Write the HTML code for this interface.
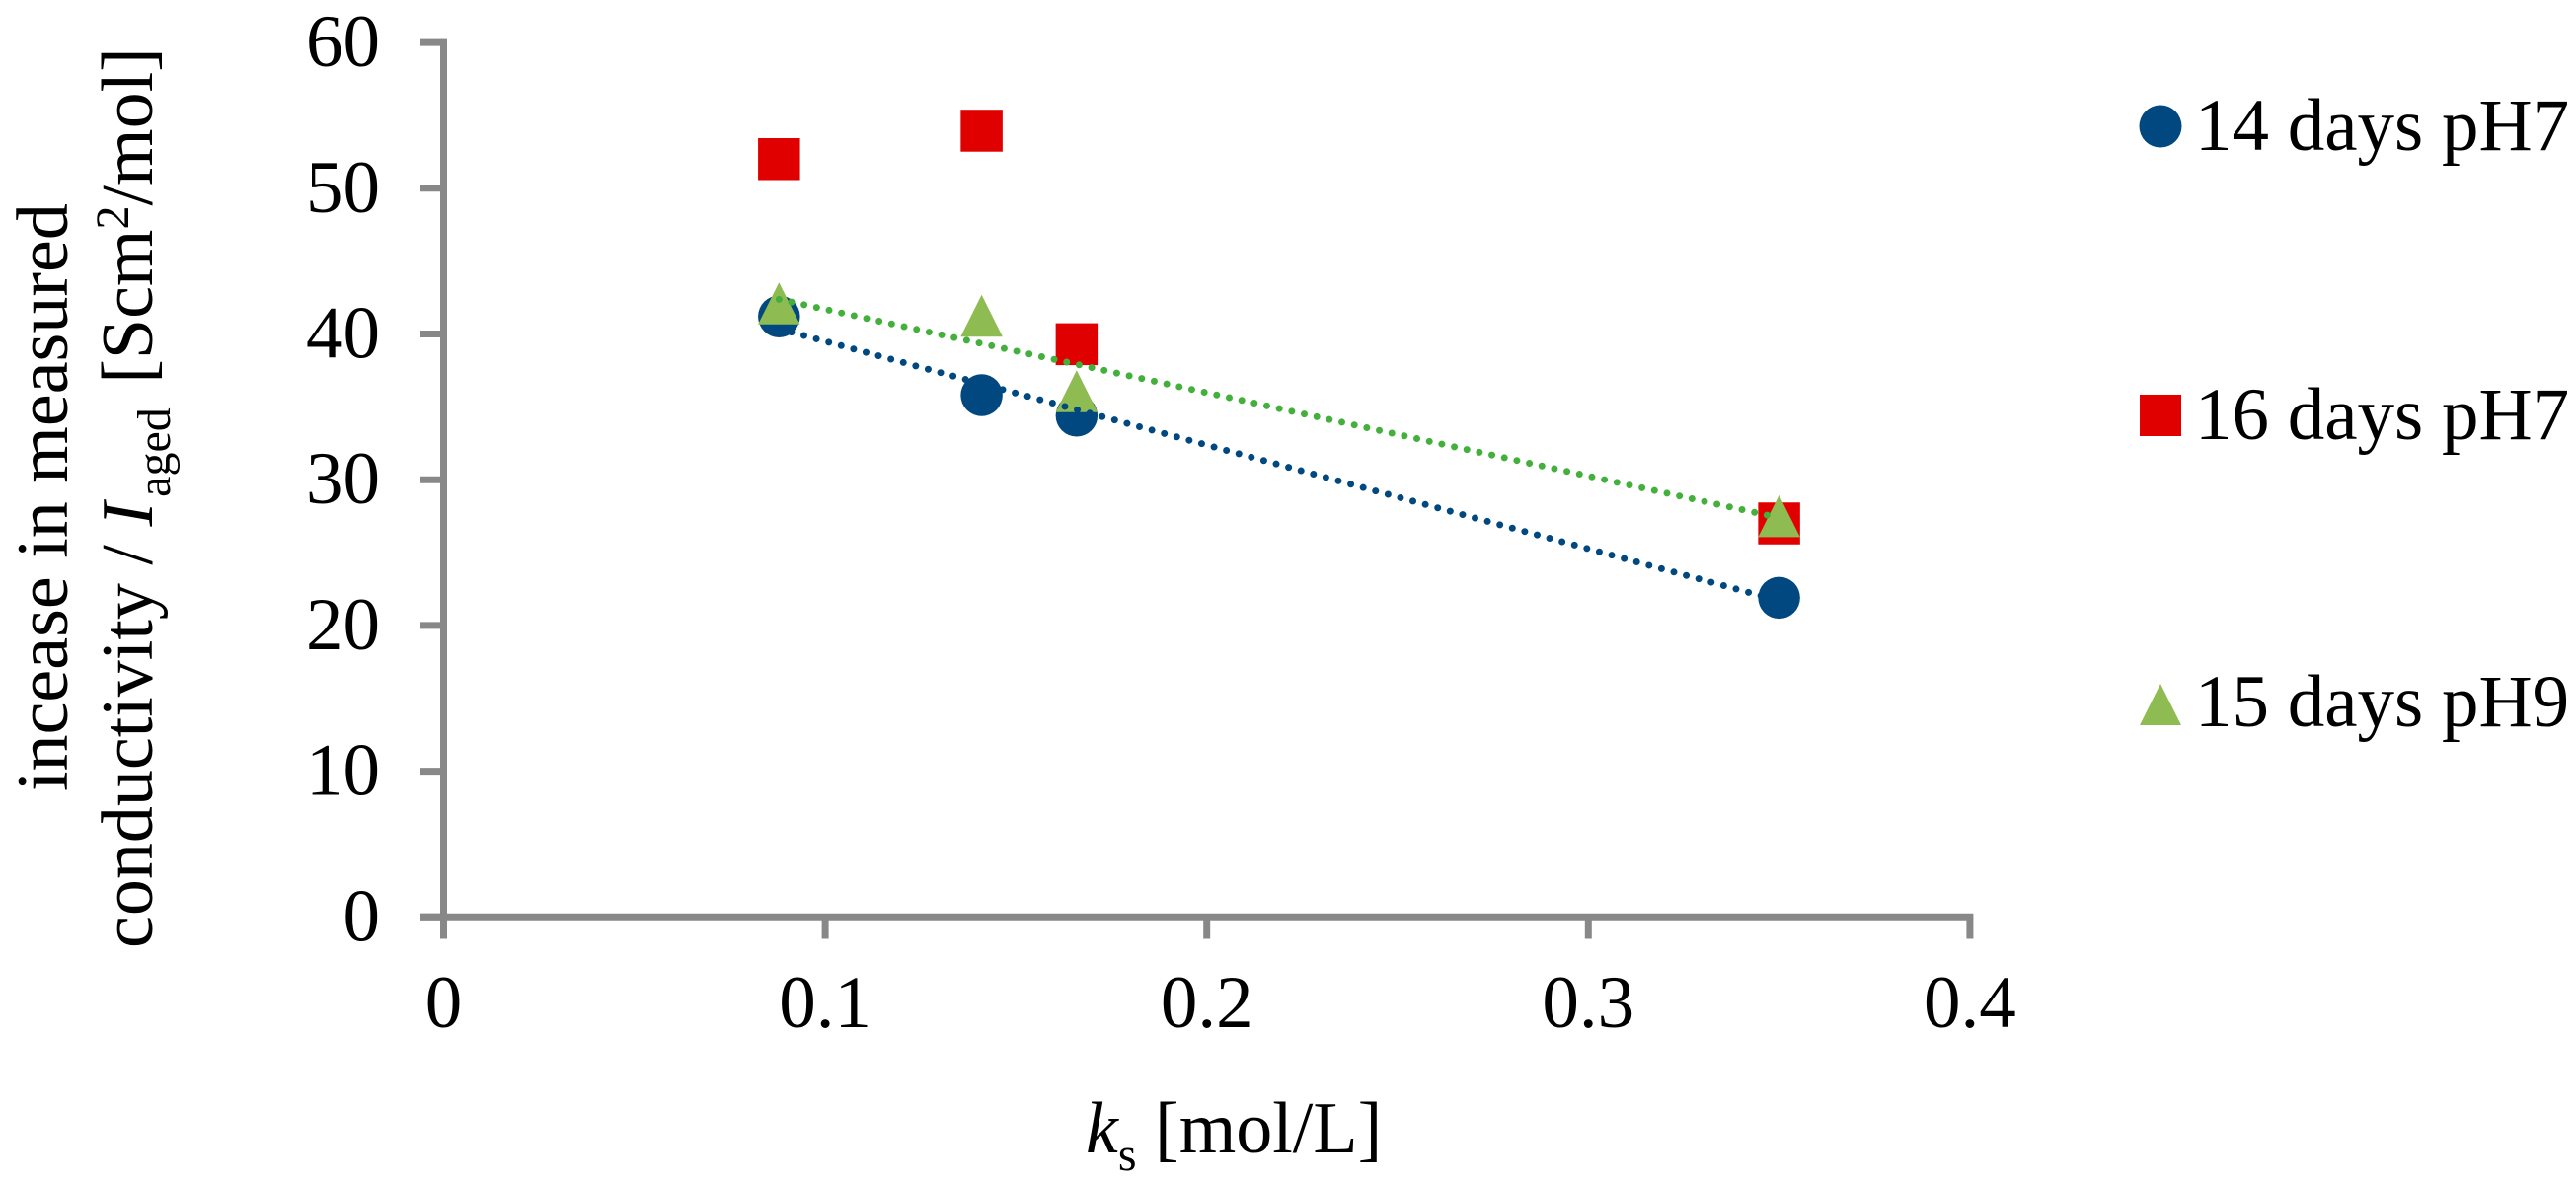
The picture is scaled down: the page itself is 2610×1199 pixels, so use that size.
<!DOCTYPE html>
<html lang="en">
<head>
<meta charset="utf-8">
<title>Conductivity increase versus ks</title>
<style>
html,body{margin:0;padding:0;background:#fff;width:2610px;height:1199px;overflow:hidden}
svg{display:block}
text{font-family:"Liberation Serif",serif;fill:#000}
</style>
</head>
<body>
<svg id="chart" width="2610" height="1199" viewBox="0 0 2610 1199" xmlns="http://www.w3.org/2000/svg">
  <rect x="0" y="0" width="2610" height="1199" fill="#ffffff"/>
  <g id="axes"></g>
  <g id="marks"></g>
  <g id="trends"></g>

  <text transform="translate(68,802) rotate(-90)" font-size="74">incease in measured</text>
  <text transform="translate(154,961) rotate(-90)" font-size="74">conductivity / <tspan font-style="italic">I</tspan><tspan font-size="48" dx="5" dy="18">aged</tspan><tspan dx="6" dy="-18"> [Scm</tspan><tspan font-size="48" dy="-24">2</tspan><tspan dy="24">/mol]</tspan></text>
  <text x="1100" y="1168" font-size="74"><tspan font-style="italic">k</tspan><tspan font-size="48" dy="18">s</tspan><tspan dy="-18"> [mol/L]</tspan></text>

  <g>
    <g>
      <circle cx="2189" cy="128" r="21.5" fill="#00487f"/>
      <text x="2224" y="152" font-size="75">14 days pH7</text>
    </g>
    <g>
      <rect x="2168" y="400" width="42" height="42" fill="#e00000"/>
      <text x="2224" y="445" font-size="75">16 days pH7</text>
    </g>
    <g>
      <polygon points="2189,693 2210,735 2168,735" fill="#8fbc52"/>
      <text x="2224" y="736" font-size="75">15 days pH9</text>
    </g>
  </g>
</svg>
<script>
const xTicks = [0, 0.1, 0.2, 0.3, 0.4];
const xTickLabels = ['0', '0.1', '0.2', '0.3', '0.4'];
const yTicks = [0, 10, 20, 30, 40, 50, 60];
const yTickLabels = ['0', '10', '20', '30', '40', '50', '60'];
const ksValues = [0.0879, 0.141, 0.1659, 0.35];
const days14pH7 = [41.2, 35.8, 34.4, 21.9];
const days16pH7 = [52.0, 53.95, 39.3, 27.0];
const days15pH9 = [42.1, 41.25, 36.07, 27.5];
const trendKs = [0.0879, 0.35];
const trend14pH7 = [40.36, 21.7];
const trend15pH9 = [42.38, 27.39];

const NS = 'http://www.w3.org/2000/svg';
function xScale(v) { return 449.5 + v * 3866; }
function yScale(v) { return 929.3 - v * 14.77; }

function make(tag, parent, attrs) {
  const el = document.createElementNS(NS, tag);
  for (const k in attrs) el.setAttribute(k, attrs[k]);
  parent.appendChild(el);
  return el;
}

const axes = document.getElementById('axes');
const marks = document.getElementById('marks');
const trends = document.getElementById('trends');
const GREY = '#888888';

const yAxis = make('line', axes, {x1: xScale(0), x2: xScale(0), y1: yScale(60) - 3.5, y2: 951.5, stroke: GREY, 'stroke-width': 7});



const xAxis = make('line', axes, {x1: 426, x2: xScale(0.4) + 3.5, y1: yScale(0), y2: yScale(0), stroke: GREY, 'stroke-width': 7});



yTicks.forEach(function (v, i) {
  const tick = make('line', axes, {x1: 426, x2: xScale(0), y1: yScale(v), y2: yScale(v), stroke: GREY, 'stroke-width': 7});
  
  
  const label = make('text', axes, {x: 385, y: yScale(v) + 24, 'font-size': 75, 'text-anchor': 'end'});
  label.textContent = yTickLabels[i];
  
  
});

xTicks.forEach(function (v, i) {
  const tick = make('line', axes, {x1: xScale(v), x2: xScale(v), y1: yScale(0), y2: 951.5, stroke: GREY, 'stroke-width': 7});
  
  
  const label = make('text', axes, {x: xScale(v), y: 1041, 'font-size': 75, 'text-anchor': 'middle'});
  label.textContent = xTickLabels[i];
  
  
});

const HALF = 21.25;

ksValues.forEach(function (k, i) {
  const dot = make('circle', marks, {cx: xScale(k), cy: yScale(days14pH7[i]), r: HALF, fill: '#00487f'});
  
  
});

ksValues.forEach(function (k, i) {
  const cx = xScale(k), cy = yScale(days16pH7[i]);
  const square = make('rect', marks, {x: cx - HALF, y: cy - HALF, width: HALF * 2, height: HALF * 2, fill: '#e00000'});
  
  
});

ksValues.forEach(function (k, i) {
  const cx = xScale(k), cy = yScale(days15pH9[i]);
  const pts = [cx, cy - HALF, cx + HALF, cy + HALF, cx - HALF, cy + HALF].join(' ');
  const tri = make('polygon', marks, {points: pts, fill: '#8fbc52'});
  
  
});

const blueTrend = make('line', trends, {
  x1: xScale(trendKs[0]), y1: yScale(trend14pH7[0]),
  x2: xScale(trendKs[1]), y2: yScale(trend14pH7[1]),
  stroke: '#00487f', 'stroke-width': 7, 'stroke-linecap': 'round', 'stroke-dasharray': '0 13.05'
});



const greenTrend = make('line', trends, {
  x1: xScale(trendKs[0]), y1: yScale(trend15pH9[0]),
  x2: xScale(trendKs[1]), y2: yScale(trend15pH9[1]),
  stroke: '#43b03c', 'stroke-width': 7, 'stroke-linecap': 'round', 'stroke-dasharray': '0 12.97'
});


</script>
</body>
</html>
